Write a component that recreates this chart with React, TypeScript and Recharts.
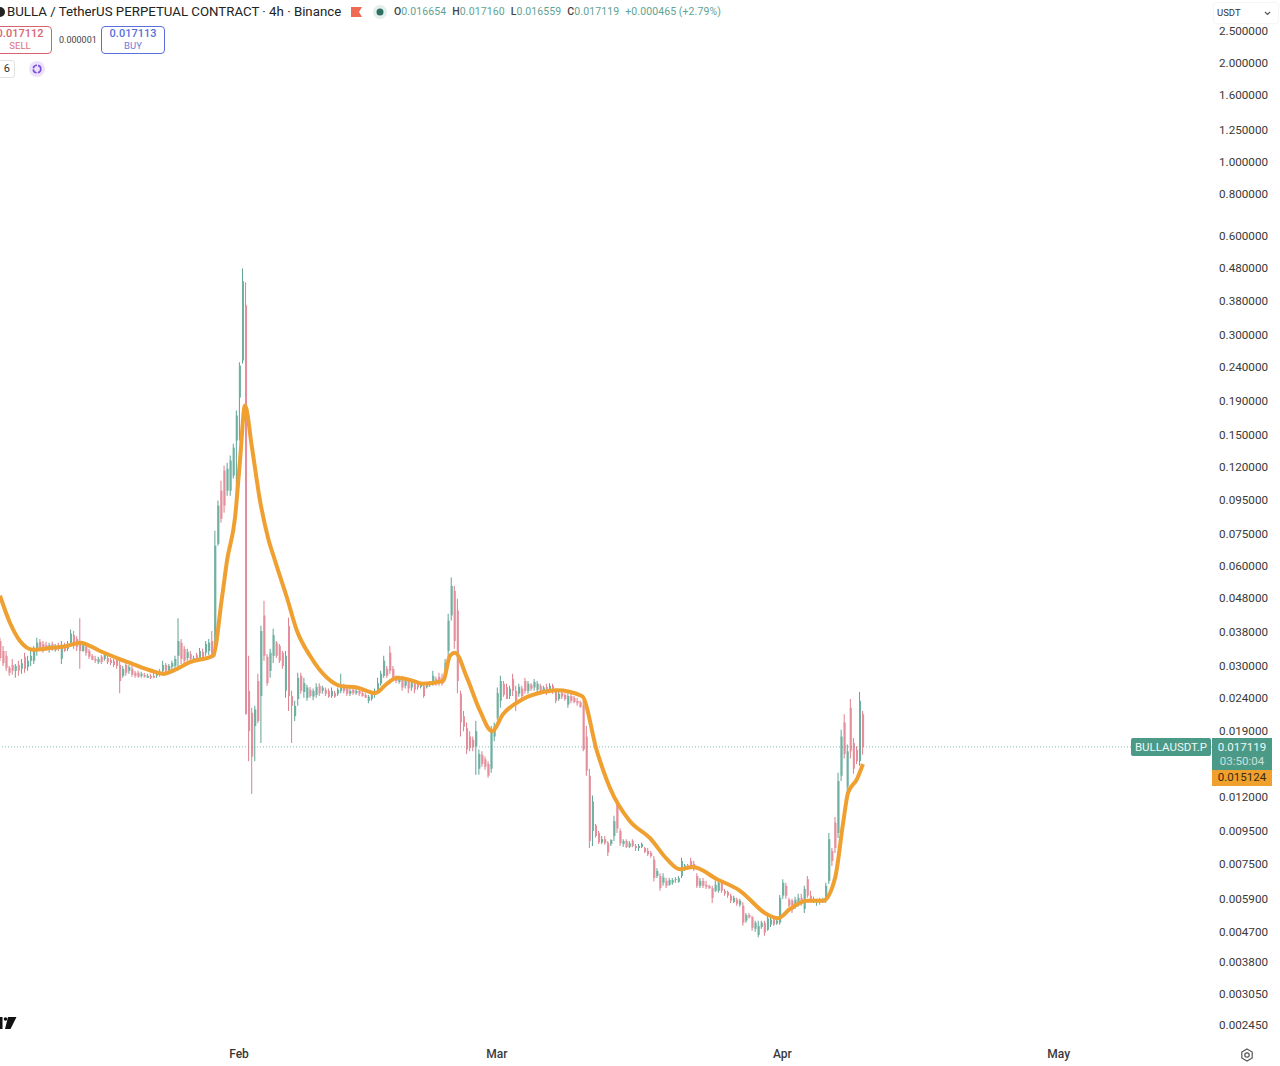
import {
	Bar,
	Cell,
	ComposedChart,
	Line,
	ReferenceLine,
	XAxis,
	YAxis,
} from "recharts";

const UP_COLOR = "#6fb0a1";
const DOWN_COLOR = "#e58f9c";
const UP_WICK = "#5fa394";
const DOWN_WICK = "#dc7f8d";
const EMA_COLOR = "#efa030";
const TEXT_COLOR = "#3a3a3a";
const FONT = "Roboto, sans-serif";

// days since Jan 1, one kept candle every 8h
const FIRST_DAY = 5.05;
const DAY_STEP = 1 / 3;

const priceTicks = [
	2.5, 2, 1.6, 1.25, 1, 0.8, 0.6, 0.48, 0.38, 0.3, 0.24, 0.19, 0.15, 0.12,
	0.095, 0.075, 0.06, 0.048, 0.038, 0.03, 0.024, 0.019, 0.012, 0.0095, 0.0075,
	0.0059, 0.0047, 0.0038, 0.00305, 0.00245,
];
const monthTicks = [31, 59, 90, 120];
const monthLabels = ["Feb", "Mar", "Apr", "May"];

const highs = [
	.0366, .0346, .0334, .0301, .0316, .0305, .0312, .0316, .0330, .0323,
	.0334, .0346, .0366, .0363, .0358, .0356, .0354, .0356, .0351, .0354,
	.0358, .0354, .0358, .0388, .0384, .0370, .0420, .0358, .0351, .0339,
	.0327, .0323, .0321, .0325, .0330, .0323, .0318, .0316, .0323, .0312,
	.0301, .0307, .0303, .0301, .0291, .0291, .0289, .0287, .0285, .0285,
	.0287, .0291, .0295, .0312, .0307, .0305, .0312, .0323, .0420, .0363,
	.0346, .0339, .0334, .0323, .0330, .0341, .0339, .0358, .0363, .0384,
	.0772, .0953, .1095, .1216, .1241, .1304, .1417, .1785, .2500, .4805,
	.4362, .0323, .0225, .0228, .0285, .0398, .0474, .0327, .0339, .0390,
	.0358, .0351, .0334, .0334, .0421, .0253, .0236, .0287, .0287, .0277,
	.0264, .0260, .0257, .0267, .0267, .0262, .0259, .0257, .0259, .0253,
	.0259, .0285, .0266, .0260, .0257, .0259, .0257, .0257, .0253, .0249,
	.0246, .0249, .0257, .0277, .0291, .0323, .0301, .0346, .0301, .0281,
	.0281, .0281, .0277, .0277, .0273, .0271, .0269, .0267, .0266, .0269,
	.0271, .0291, .0279, .0287, .0285, .0316, .0433, .0557, .0526, .0481,
	.0253, .0220, .0203, .0191, .0184, .0205, .0168, .0166, .0160, .0155,
	.0198, .0203, .0259, .0281, .0271, .0266, .0262, .0285, .0262, .0266,
	.0262, .0277, .0271, .0267, .0275, .0271, .0266, .0262, .0266, .0267,
	.0266, .0257, .0253, .0253, .0249, .0249, .0249, .0244, .0241, .0236,
	.0236, .0198, .0147, .0122, .0100, .00953, .0092, .0092, .00889, .0090,
	.0106, .0119, .0097, .0090, .0090, .00889, .0090, .0087, .0087, .0088,
	.00852, .00846, .00829, .0080, .00735, .0071, .0071, .00686, .00686, .00686,
	.0069, .00696, .0079, .00757, .00757, .0079, .00773, .0071, .00686, .00686,
	.00673, .00655, .0065, .00673, .00681, .00673, .00636, .00628, .00615, .00607,
	.00598, .00594, .0058, .00538, .00538, .00528, .0051, .0051, .0051, .0051,
	.00533, .00524, .00524, .00518, .0061, .00681, .00664, .00598, .00594, .00602,
	.00615, .00615, .0065, .00696, .00628, .00602, .00594, .00598, .00598, .00664,
	.0094, .00846, .0105, .0143, .0193, .0215, .0174, .0239, .0182, .0172,
	.0251, .0220,
];

const lows = [
	.0312, .0301, .0291, .0281, .0283, .0277, .0281, .0285, .0287, .0291,
	.0301, .0305, .0323, .0334, .0330, .0334, .0330, .0334, .0332, .0334,
	.0305, .0332, .0334, .0346, .0339, .0334, .0295, .0332, .0323, .0316,
	.0314, .0307, .0305, .0305, .0312, .0305, .0303, .0299, .0295, .0249,
	.0277, .0281, .0285, .0279, .0277, .0277, .0277, .0277, .0277, .0275,
	.0277, .0277, .0279, .0281, .0287, .0285, .0291, .0295, .0297, .0305,
	.0305, .0312, .0309, .0307, .0312, .0316, .0312, .0323, .0325, .0323,
	.0321, .0696, .0817, .0876, .0986, .0986, .1111, .0986, .1448, .2477,
	.0215, .0155, .01233, .0155, .0202, .0176, .0312, .0262, .0277, .0307,
	.0318, .0307, .0295, .0241, .0220, .0176, .0205, .0228, .0248, .0241,
	.0236, .0241, .0237, .0241, .0244, .0248, .0244, .0241, .0241, .0241,
	.0244, .0249, .0249, .0244, .0244, .0246, .0246, .0244, .0243, .0241,
	.0232, .0236, .0241, .0249, .0262, .0277, .0277, .0285, .0277, .0267,
	.0266, .0253, .0257, .0249, .0253, .0249, .0255, .0257, .0241, .0257,
	.0260, .0262, .0262, .0262, .0262, .0277, .0301, .0413, .0339, .0249,
	.0184, .0191, .0163, .0166, .0166, .0141, .0141, .0149, .0146, .0138,
	.0143, .0178, .0207, .0225, .0243, .0239, .0239, .0244, .0220, .0243,
	.0239, .0248, .0248, .0253, .0253, .0249, .0249, .0248, .0246, .0249,
	.0248, .0232, .0236, .0239, .0236, .0225, .0232, .0232, .0228, .0225,
	.0166, .0140, .00846, .00858, .00910, .00870, .00870, .00865, .0080, .00858,
	.00889, .0094, .00858, .00852, .00846, .00846, .0085, .00829, .00829, .00846,
	.00817, .0080, .0079, .0067, .00687, .00628, .0065, .0064, .0065, .00655,
	.00664, .00664, .00686, .00721, .0073, .0073, .00721, .0064, .0064, .0064,
	.00636, .00636, .00577, .00623, .00619, .00619, .00607, .00598, .00577, .00577,
	.00566, .00562, .00492, .00503, .00518, .00475, .00472, .00454, .00482, .00459,
	.00475, .00488, .00492, .00496, .00496, .00594, .00594, .0056, .00538, .00553,
	.00562, .00566, .00538, .00598, .0058, .00577, .00566, .0057, .00577, .00577,
	.00658, .00746, .00817, .00907, .0135, .0158, .0124, .0158, .0142, .0152,
	.0150, .0162,
];

const opens = [
	.0358, .0334, .0323, .0297, .0303, .0291, .0303, .0295, .0321, .0299,
	.0312, .0312, .0334, .0356, .0351, .0348, .0339, .0351, .0336, .0348,
	.0316, .0346, .0339, .0354, .0373, .0363, .0358, .0334, .0344, .0334,
	.0323, .0316, .0309, .0321, .0316, .0318, .0314, .0312, .0316, .0303,
	.0281, .0303, .0291, .0295, .0287, .0287, .0281, .0283, .0277, .0281,
	.0281, .0281, .0287, .0291, .0303, .0291, .0299, .0301, .0323, .0354,
	.0339, .0318, .0327, .0312, .0325, .0318, .0332, .0330, .0334, .0358,
	.0334, .0705, .1021, .1174, .1021, .1021, .1134, .1448, .1954, .2530,
	.3715, .0253, .0217, .0198, .0271, .0244, .0428, .0321, .0291, .0323,
	.0354, .0346, .0330, .0253, .0398, .0244, .0212, .0239, .0281, .0251,
	.0241, .0255, .0243, .0246, .0262, .0253, .0255, .0253, .0244, .0249,
	.0248, .0253, .0262, .0257, .0248, .0255, .0249, .0253, .0249, .0246,
	.0236, .0239, .0246, .0253, .0266, .0281, .0295, .0330, .0295, .0279,
	.0269, .0275, .0262, .0271, .0259, .0266, .0266, .0260, .0262, .0260,
	.0264, .0266, .0275, .0279, .0277, .0281, .0334, .0428, .0508, .0443,
	.0248, .0212, .0195, .0184, .0180, .0172, .0147, .0162, .0157, .0152,
	.0147, .0184, .0210, .0236, .0266, .0260, .0244, .0275, .0253, .0248,
	.0257, .0271, .0253, .0264, .0259, .0255, .0262, .0251, .0260, .0255,
	.0262, .0253, .0239, .0249, .0246, .0230, .0244, .0241, .0236, .0234,
	.0228, .0184, .0140, .00953, .0099, .0094, .0088, .0090, .00875, .0087,
	.0092, .0115, .00953, .0087, .00889, .00852, .00889, .00858, .00846, .00852,
	.00846, .00829, .00817, .0078, .00696, .00696, .00664, .00673, .00655, .00664,
	.00677, .00668, .00696, .0073, .0075, .00773, .00757, .00696, .0065, .00673,
	.00655, .0065, .0064, .00628, .00628, .00664, .00628, .00623, .00607, .00581,
	.0059, .0057, .00566, .0051, .0053, .00522, .00482, .00462, .00488, .00503,
	.00478, .00496, .00514, .005, .00503, .00607, .0065, .0059, .00586, .00566,
	.0057, .00598, .00553, .00681, .00607, .00594, .0058, .0059, .00581, .00586,
	.00673, .00829, .0101, .0094, .0140, .0203, .0130, .0225, .0176, .0168,
	.0155, .0215,
];

const closes = [
	.0318, .0307, .0297, .0287, .0291, .0301, .0291, .0307, .0295, .0312,
	.0323, .0334, .0354, .0341, .0339, .0339, .0348, .0341, .0346, .0339,
	.0346, .0334, .0351, .0377, .0346, .0344, .0334, .0348, .0330, .0321,
	.0314, .0312, .0316, .0309, .0325, .0309, .0307, .0303, .0301, .0271,
	.0295, .0287, .0299, .0283, .0281, .0279, .0285, .0279, .0281, .0277,
	.0277, .0287, .0283, .0303, .0291, .0301, .0307, .0316, .0358, .0316,
	.0312, .0332, .0316, .0318, .0316, .0334, .0318, .0351, .0354, .0327,
	.0696, .0920, .0840, .0920, .1190, .1260, .1378, .1724, .2443, .4400,
	.0215, .0191, .0160, .0222, .0205, .0384, .0323, .0267, .0330, .0373,
	.0323, .0312, .0301, .0323, .0244, .0228, .0228, .0277, .0253, .0267,
	.0259, .0244, .0253, .0260, .0249, .0259, .0248, .0243, .0253, .0243,
	.0255, .0262, .0253, .0248, .0253, .0249, .0253, .0248, .0244, .0241,
	.0243, .0246, .0253, .0267, .0285, .0312, .0281, .0291, .0279, .0271,
	.0277, .0259, .0271, .0257, .0267, .0255, .0259, .0264, .0244, .0266,
	.0267, .0281, .0266, .0267, .0266, .0307, .0413, .0526, .0358, .0271,
	.0203, .0197, .0168, .0170, .0171, .0191, .0163, .0152, .0149, .0140,
	.0191, .0198, .0249, .0271, .0246, .0239, .0257, .0253, .0236, .0260,
	.0244, .0253, .0266, .0257, .0269, .0266, .0253, .0259, .0251, .0262,
	.0251, .0236, .0248, .0243, .0239, .0244, .0236, .0234, .0232, .0226,
	.0168, .0145, .00889, .0117, .0092, .0088, .0090, .00875, .0082, .00895,
	.0102, .0097, .00875, .00889, .00852, .00875, .00858, .00846, .00858, .0087,
	.00823, .0081, .0080, .00687, .00721, .00640, .00690, .0065, .00677, .00677,
	.00681, .00686, .00773, .0075, .0074, .0074, .0073, .0065, .00673, .0065,
	.00645, .0064, .00598, .00655, .00664, .00628, .00615, .00607, .00586, .00598,
	.00574, .00586, .00503, .0053, .00522, .00485, .00503, .00492, .00503, .00469,
	.00518, .00514, .00496, .0051, .00598, .00664, .00607, .00566, .0055, .0059,
	.00598, .0058, .00636, .00607, .0059, .00581, .00586, .0058, .0059, .0065,
	.0090, .00773, .00846, .0135, .0184, .0163, .0166, .0166, .0147, .0155,
	.0236, .0171,
];

const emaDays = [
	5.05, 6.14, 7.22, 8.63, 10.48, 12.32, 13.74, 15.91, 17.75, 19.49, 21.34,
	22.75, 24.27, 25.68, 28.18, 29.15, 29.7, 30.57, 31.11, 31.65, 32.41, 33.28,
	34.15, 34.91, 36.21, 37.3, 38.71, 40.56, 41.97, 43.81, 45.77, 47.07, 48.16,
	49.57, 50.98, 53.15, 53.91, 54.45, 55.76, 57.17, 58.47, 59.67, 61.84, 64.01,
	65.53, 68.24, 69.87, 71.28, 73.45, 75.63, 77.47, 78.88, 80.3, 82.9, 85.4,
	88.33, 89.53, 90.83, 92.67, 94.41, 95.72, 96.58, 97.13, 98.1, 98.75,
];
const emaValues = [
	.0491, .0406, .0358, .0337, .0341, .0346, .0354, .0334, .0318, .0305, .0292,
	.0285, .0295, .0309, .0323, .0484, .0627, .0846, .126, .1848, .1378, .0953,
	.0736, .0627, .0484, .0384, .0323, .0277, .0262, .0259, .0249, .0266, .0277,
	.0273, .0266, .0271, .0323, .0330, .0277, .0220, .0191, .0215, .0239, .0251,
	.0254, .0244, .0166, .01286, .0102, .00907, .00783, .0073, .00741, .00681,
	.00628, .00533, .00519, .00553, .00586, .00586, .00686, .0100, .01242, .01368,
	.0152,
];

const LAST_PRICE = 0.017119;

const candleData = highs.map((high, i) => ({
	day: FIRST_DAY + i * DAY_STEP,
	wick: [lows[i], high],
	body: [Math.min(opens[i], closes[i]), Math.max(opens[i], closes[i])],
	up: closes[i] >= opens[i],
}));
const emaData = emaDays.map((day, i) => ({ day, ema: emaValues[i] }));

function abs(x: number, y: number, w?: number, h?: number): React.CSSProperties {
	return { position: "absolute", left: x, top: y, width: w, height: h };
}

function OrderBox({ x, price, side, color }: { x: number; price: string; side: string; color: string }) {
	return (
		<div
			style={{
				...abs(x, 26, 64, 28),
				boxSizing: "border-box",
				border: `1px solid ${color}`,
				borderRadius: 4,
				textAlign: "center",
				color,
			}}>
			<div style={{ fontSize: 11, lineHeight: "12px", marginTop: 1, fontWeight: 500 }}>{price}</div>
			<div style={{ fontSize: 9.5, lineHeight: "12px", opacity: 0.9 }}>{side}</div>
		</div>
	);
}

function Ohlc({ label, value }: { label: string; value: string }) {
	return (
		<span style={{ marginRight: 6 }}>
			<b style={{ color: "#444", fontWeight: 500 }}>{label}</b>
			{value}
		</span>
	);
}

function Header() {
	return (
		<>
			<svg style={abs(0, 0, 400, 90)}>
				<circle cx={0} cy={12} r={5} fill="#222" />
				<path d="M351 7h11l-3 5 3 5h-11z" fill="#ee6a55" />
				<circle cx={380} cy={12} r={7} fill="#e3efec" />
				<circle cx={380} cy={12} r={3.5} fill="#2f6f62" />
				<circle cx={37} cy={69} r={8} fill="#ece3fb" />
				<circle cx={37} cy={69} r={3.8} fill="none" stroke="#7c4ddb" strokeWidth={1.6} strokeDasharray="5 1.2" />
			</svg>
			<div style={{ ...abs(7, 4), fontSize: 13.25, lineHeight: "16px", color: "#222", whiteSpace: "nowrap" }}>
				BULLA / TetherUS PERPETUAL CONTRACT · 4h · Binance
			</div>
			<div style={{ ...abs(394, 5), fontSize: 10.5, lineHeight: "14px", color: "#5fa394", whiteSpace: "nowrap", letterSpacing: 0.1 }}>
				<Ohlc label="O" value="0.016654" />
				<Ohlc label="H" value="0.017160" />
				<Ohlc label="L" value="0.016559" />
				<Ohlc label="C" value="0.017119" />
				+0.000465 (+2.79%)
			</div>
			<OrderBox x={-12} price="0.017112" side="SELL" color="#d9626f" />
			<div style={{ ...abs(59, 34), fontSize: 9, lineHeight: "12px", color: "#444" }}>0.000001</div>
			<OrderBox x={101} price="0.017113" side="BUY" color="#5a6fdc" />
			<div
				style={{
					...abs(-10, 60, 25, 18),
					boxSizing: "border-box",
					border: "1px solid #e2e2e2",
					borderRadius: 3,
					fontSize: 11,
					lineHeight: "16px",
					color: "#333",
					textAlign: "right",
					paddingRight: 4,
				}}>
				6
			</div>
			<div
				style={{
					...abs(1214, 3, 64, 20),
					boxSizing: "border-box",
					boxShadow: "0 0 2px #ddd",
					borderRadius: 2,
					fontSize: 9.5,
					lineHeight: "20px",
					paddingLeft: 3,
					color: "#333",
				}}>
				USDT
				<svg style={abs(50, 8, 8, 5)}>
					<path d="M1 1l2.5 2.5L6 1" fill="none" stroke="#555" strokeWidth={1.2} />
				</svg>
			</div>
		</>
	);
}

function PriceTags() {
	const tag: React.CSSProperties = { textAlign: "center", fontSize: 11.5, whiteSpace: "nowrap" };
	return (
		<>
			<div style={{ ...abs(1131, 738, 80, 18), ...tag, background: "#4b9a88", color: "#eef7f4", lineHeight: "18px", borderRadius: 2 }}>
				BULLAUSDT.P
			</div>
			<div style={{ ...abs(1212, 738, 60, 32), ...tag, background: "#4b9a88", color: "#f1f8f6", lineHeight: "14px" }}>
				<div style={{ marginTop: 2 }}>0.017119</div>
				<div style={{ opacity: 0.75 }}>03:50:04</div>
			</div>
			<div style={{ ...abs(1212, 770, 60, 16), ...tag, background: "#f0a02d", color: "#3a2a10", lineHeight: "15px" }}>
				0.015124
			</div>
		</>
	);
}

function Footer() {
	return (
		<svg style={abs(0, 1000, 1280, 66)}>
			<path d="M0 17h2.5v12H0zM8 17h8.5l-6 12H5z" fill="#111" />
			<circle cx={5.5} cy={19} r={1.8} fill="#111" />
			<path d="M1247 49l5.2 3v6l-5.2 3-5.2-3v-6z" fill="none" stroke="#555" strokeWidth={1.2} />
			<circle cx={1247} cy={55} r={2.2} fill="none" stroke="#555" strokeWidth={1.2} />
		</svg>
	);
}

export default function App() {
	return (
		<div
			style={{
				...abs(0, 0, 1280, 1066),
				overflow: "hidden",
				background: "#fff",
				fontFamily: FONT,
			}}>
			<ComposedChart
				width={1280}
				height={1066}
				data={candleData}
				margin={{ top: 0, right: 0, bottom: 0, left: 0 }}>
				<XAxis
					xAxisId="month"
					dataKey="day"
					type="number"
					domain={[5.05, 136.65]}
					ticks={monthTicks}
					tickFormatter={(d: number) => monthLabels[monthTicks.indexOf(d)]}
					height={26}
					axisLine={false}
					tickLine={false}
					tickSize={0}
					tickMargin={9}
					tick={{ fill: TEXT_COLOR, fontSize: 12, fontWeight: 500, fontFamily: FONT }}
				/>
				<XAxis xAxisId="wick" dataKey="day" type="number" domain={[5.05, 136.65]} height={0} hide />
				<XAxis xAxisId="body" dataKey="day" type="number" domain={[5.05, 136.65]} height={0} hide />
				<YAxis
					orientation="right"
					scale="log"
					domain={[0.00222, 3.12]}
					allowDataOverflow
					ticks={priceTicks}
					interval={0}
					width={68}
					axisLine={false}
					tickLine={false}
					tickSize={0}
					tickMargin={7}
					dy={-1}
					tickFormatter={(v: number) => v.toFixed(6)}
					tick={{ fill: TEXT_COLOR, fontSize: 11.7, fontFamily: FONT, textAnchor: "start", dy: -1 }}
				/>
				<ReferenceLine
					xAxisId="month"
					y={LAST_PRICE}
					stroke="#4b9a88"
					strokeOpacity={0.7}
					strokeDasharray="1 2"
				/>
				<Bar xAxisId="wick" dataKey="wick" barSize={1} isAnimationActive={false}>
					{candleData.map((c, i) => (
						<Cell key={i} fill={c.up ? UP_WICK : DOWN_WICK} />
					))}
				</Bar>
				<Bar xAxisId="body" dataKey="body" barSize={2} isAnimationActive={false}>
					{candleData.map((c, i) => (
						<Cell key={i} fill={c.up ? UP_COLOR : DOWN_COLOR} />
					))}
				</Bar>
				<Line
					xAxisId="month"
					data={emaData}
					dataKey="ema"
					type="monotone"
					stroke={EMA_COLOR}
					strokeWidth={4}
					dot={false}
					isAnimationActive={false}
				/>
			</ComposedChart>
			<Header />
			<PriceTags />
			<Footer />
		</div>
	);
}
